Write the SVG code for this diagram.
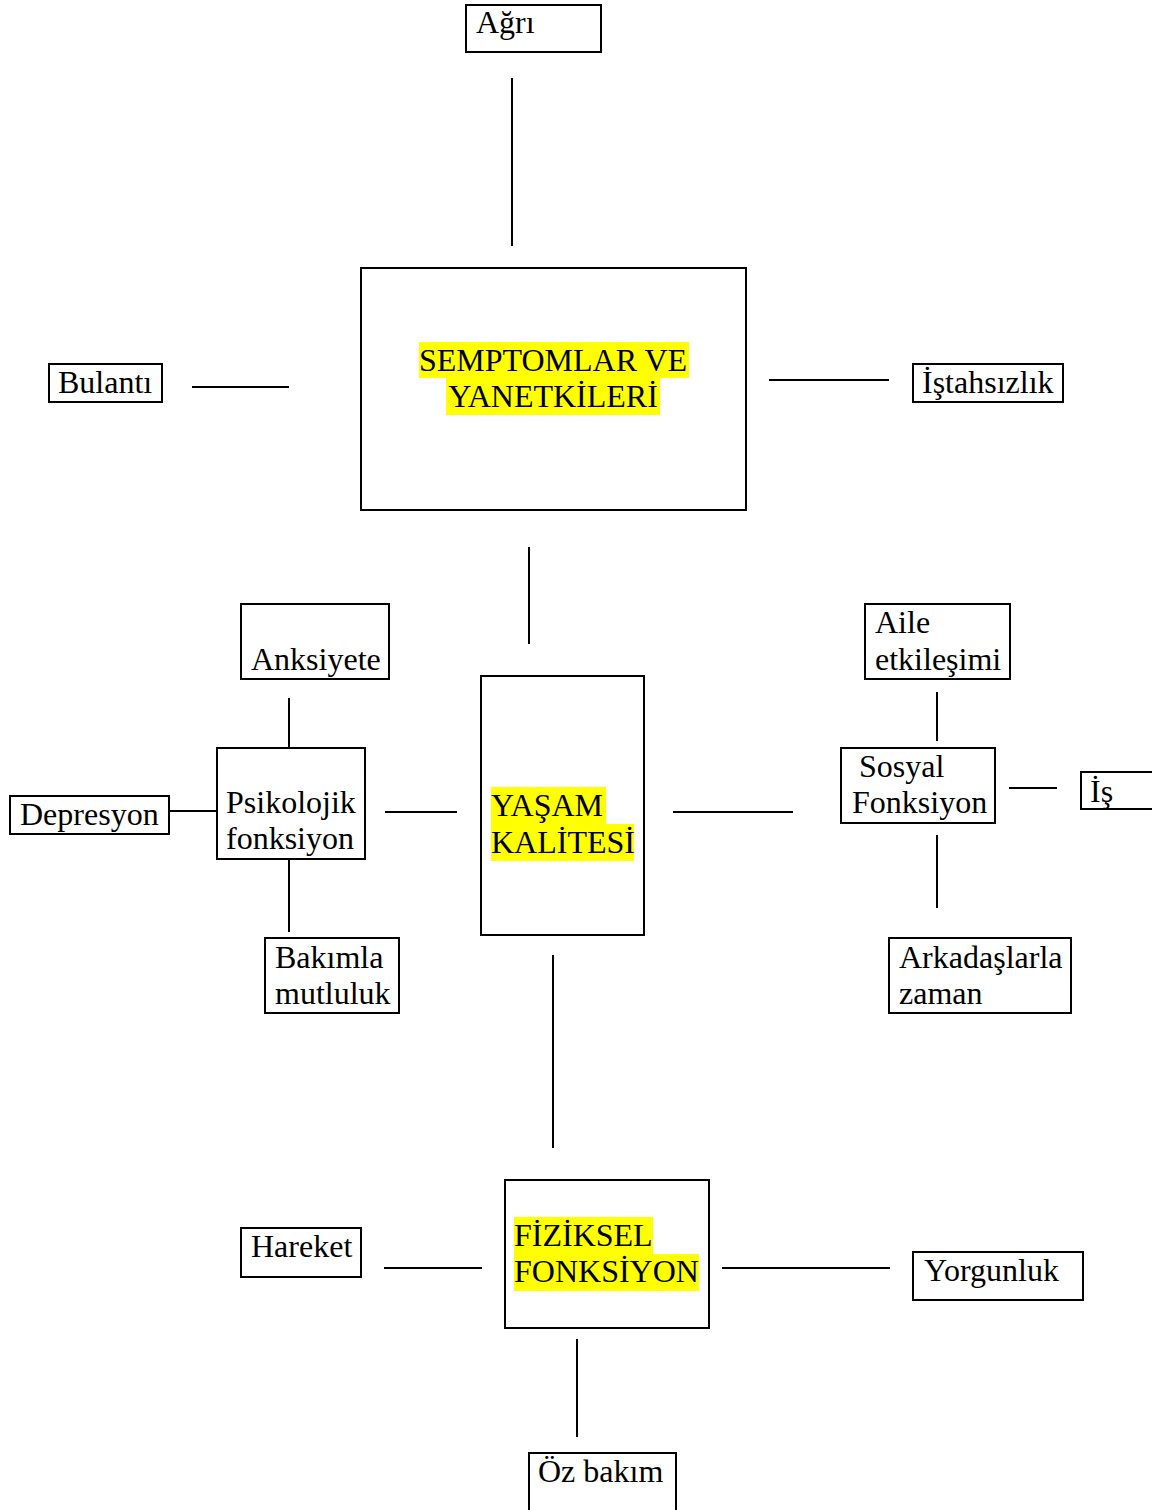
<svg xmlns="http://www.w3.org/2000/svg" width="1152" height="1510" viewBox="0 0 1152 1510">
<style>
.b{fill:#fff;stroke:#000;stroke-width:2}
.l{stroke:#000;stroke-width:2;fill:none}
.t{font-family:"Liberation Serif","Times New Roman",serif;font-size:32px;fill:#000}
.h{fill:#ffff00;stroke:none}
</style>
<rect width="1152" height="1510" fill="#fff"/>
<g id="connectors">
<line class="l" x1="512" y1="78" x2="512" y2="246"/>
<line class="l" x1="192" y1="387" x2="289" y2="387"/>
<line class="l" x1="769" y1="380" x2="889" y2="380"/>
<line class="l" x1="529" y1="547" x2="529" y2="644"/>
<line class="l" x1="385" y1="812" x2="457" y2="812"/>
<line class="l" x1="673" y1="812" x2="793" y2="812"/>
<line class="l" x1="289" y1="698" x2="289" y2="748"/>
<line class="l" x1="169" y1="811" x2="217" y2="811"/>
<line class="l" x1="289" y1="859" x2="289" y2="932"/>
<line class="l" x1="937" y1="692" x2="937" y2="741"/>
<line class="l" x1="1009" y1="788" x2="1057" y2="788"/>
<line class="l" x1="937" y1="835" x2="937" y2="908"/>
<line class="l" x1="553" y1="955" x2="553" y2="1148"/>
<line class="l" x1="384" y1="1268" x2="482" y2="1268"/>
<line class="l" x1="722" y1="1268" x2="890" y2="1268"/>
<line class="l" x1="577" y1="1339" x2="577" y2="1437"/>
</g>
<g id="agri"><rect class="b" x="466" y="5" width="135" height="47"/><text class="t" x="476" y="33">Ağrı</text></g>
<g id="semptomlar"><rect class="b" x="361" y="268" width="385" height="242"/>
<rect class="h" x="419" y="342" width="270" height="36"/><rect class="h" x="446" y="378" width="214" height="37"/>
<text class="t" x="553" y="371" text-anchor="middle">SEMPTOMLAR VE</text><text class="t" x="553" y="407" text-anchor="middle">YANETKİLERİ</text></g>
<g id="bulanti"><rect class="b" x="49" y="364" width="113" height="38"/><text class="t" x="58" y="393">Bulantı</text></g>
<g id="istahsizlik"><rect class="b" x="913" y="364" width="150" height="38"/><text class="t" x="922" y="393">İştahsızlık</text></g>
<g id="yasam"><rect class="b" x="481" y="676" width="163" height="259"/>
<rect class="h" x="491" y="787" width="115" height="37"/><rect class="h" x="491" y="824" width="143" height="37"/>
<text class="t" x="491" y="816">YAŞAM</text><text class="t" x="491" y="853">KALİTESİ</text></g>
<g id="anksiyete"><rect class="b" x="241" y="604" width="148" height="75"/><text class="t" x="251" y="670">Anksiyete</text></g>
<g id="psikolojik"><rect class="b" x="217" y="748" width="148" height="111"/><text class="t" x="226" y="813">Psikolojik</text><text class="t" x="226" y="849">fonksiyon</text></g>
<g id="depresyon"><rect class="b" x="10" y="796" width="159" height="38"/><text class="t" x="20" y="825">Depresyon</text></g>
<g id="bakimla"><rect class="b" x="265" y="938" width="134" height="75"/><text class="t" x="275" y="968">Bakımla</text><text class="t" x="275" y="1004">mutluluk</text></g>
<g id="aile"><rect class="b" x="865" y="604" width="145" height="75"/><text class="t" x="875" y="633">Aile</text><text class="t" x="875" y="670">etkileşimi</text></g>
<g id="sosyal"><rect class="b" x="841" y="748" width="154" height="75"/><text class="t" x="859" y="777">Sosyal</text><text class="t" x="852" y="813">Fonksiyon</text></g>
<g id="is"><rect class="b" x="1081" y="772" width="80" height="37"/><text class="t" x="1090" y="802">İş</text></g>
<g id="arkadaslarla"><rect class="b" x="889" y="938" width="182" height="75"/><text class="t" x="899" y="968">Arkadaşlarla</text><text class="t" x="899" y="1004">zaman</text></g>
<g id="fiziksel"><rect class="b" x="505" y="1180" width="204" height="148"/>
<rect class="h" x="514" y="1217" width="139" height="37"/><rect class="h" x="514" y="1254" width="185" height="37"/>
<text class="t" x="514" y="1246">FİZİKSEL</text><text class="t" x="514" y="1282">FONKSİYON</text></g>
<g id="hareket"><rect class="b" x="241" y="1228" width="120" height="49"/><text class="t" x="251" y="1257">Hareket</text></g>
<g id="yorgunluk"><rect class="b" x="913" y="1252" width="170" height="48"/><text class="t" x="924" y="1281">Yorgunluk</text></g>
<g id="ozbakim"><rect class="b" x="529" y="1453" width="147" height="70"/><text class="t" x="538" y="1482">Öz bakım</text></g>
</svg>
